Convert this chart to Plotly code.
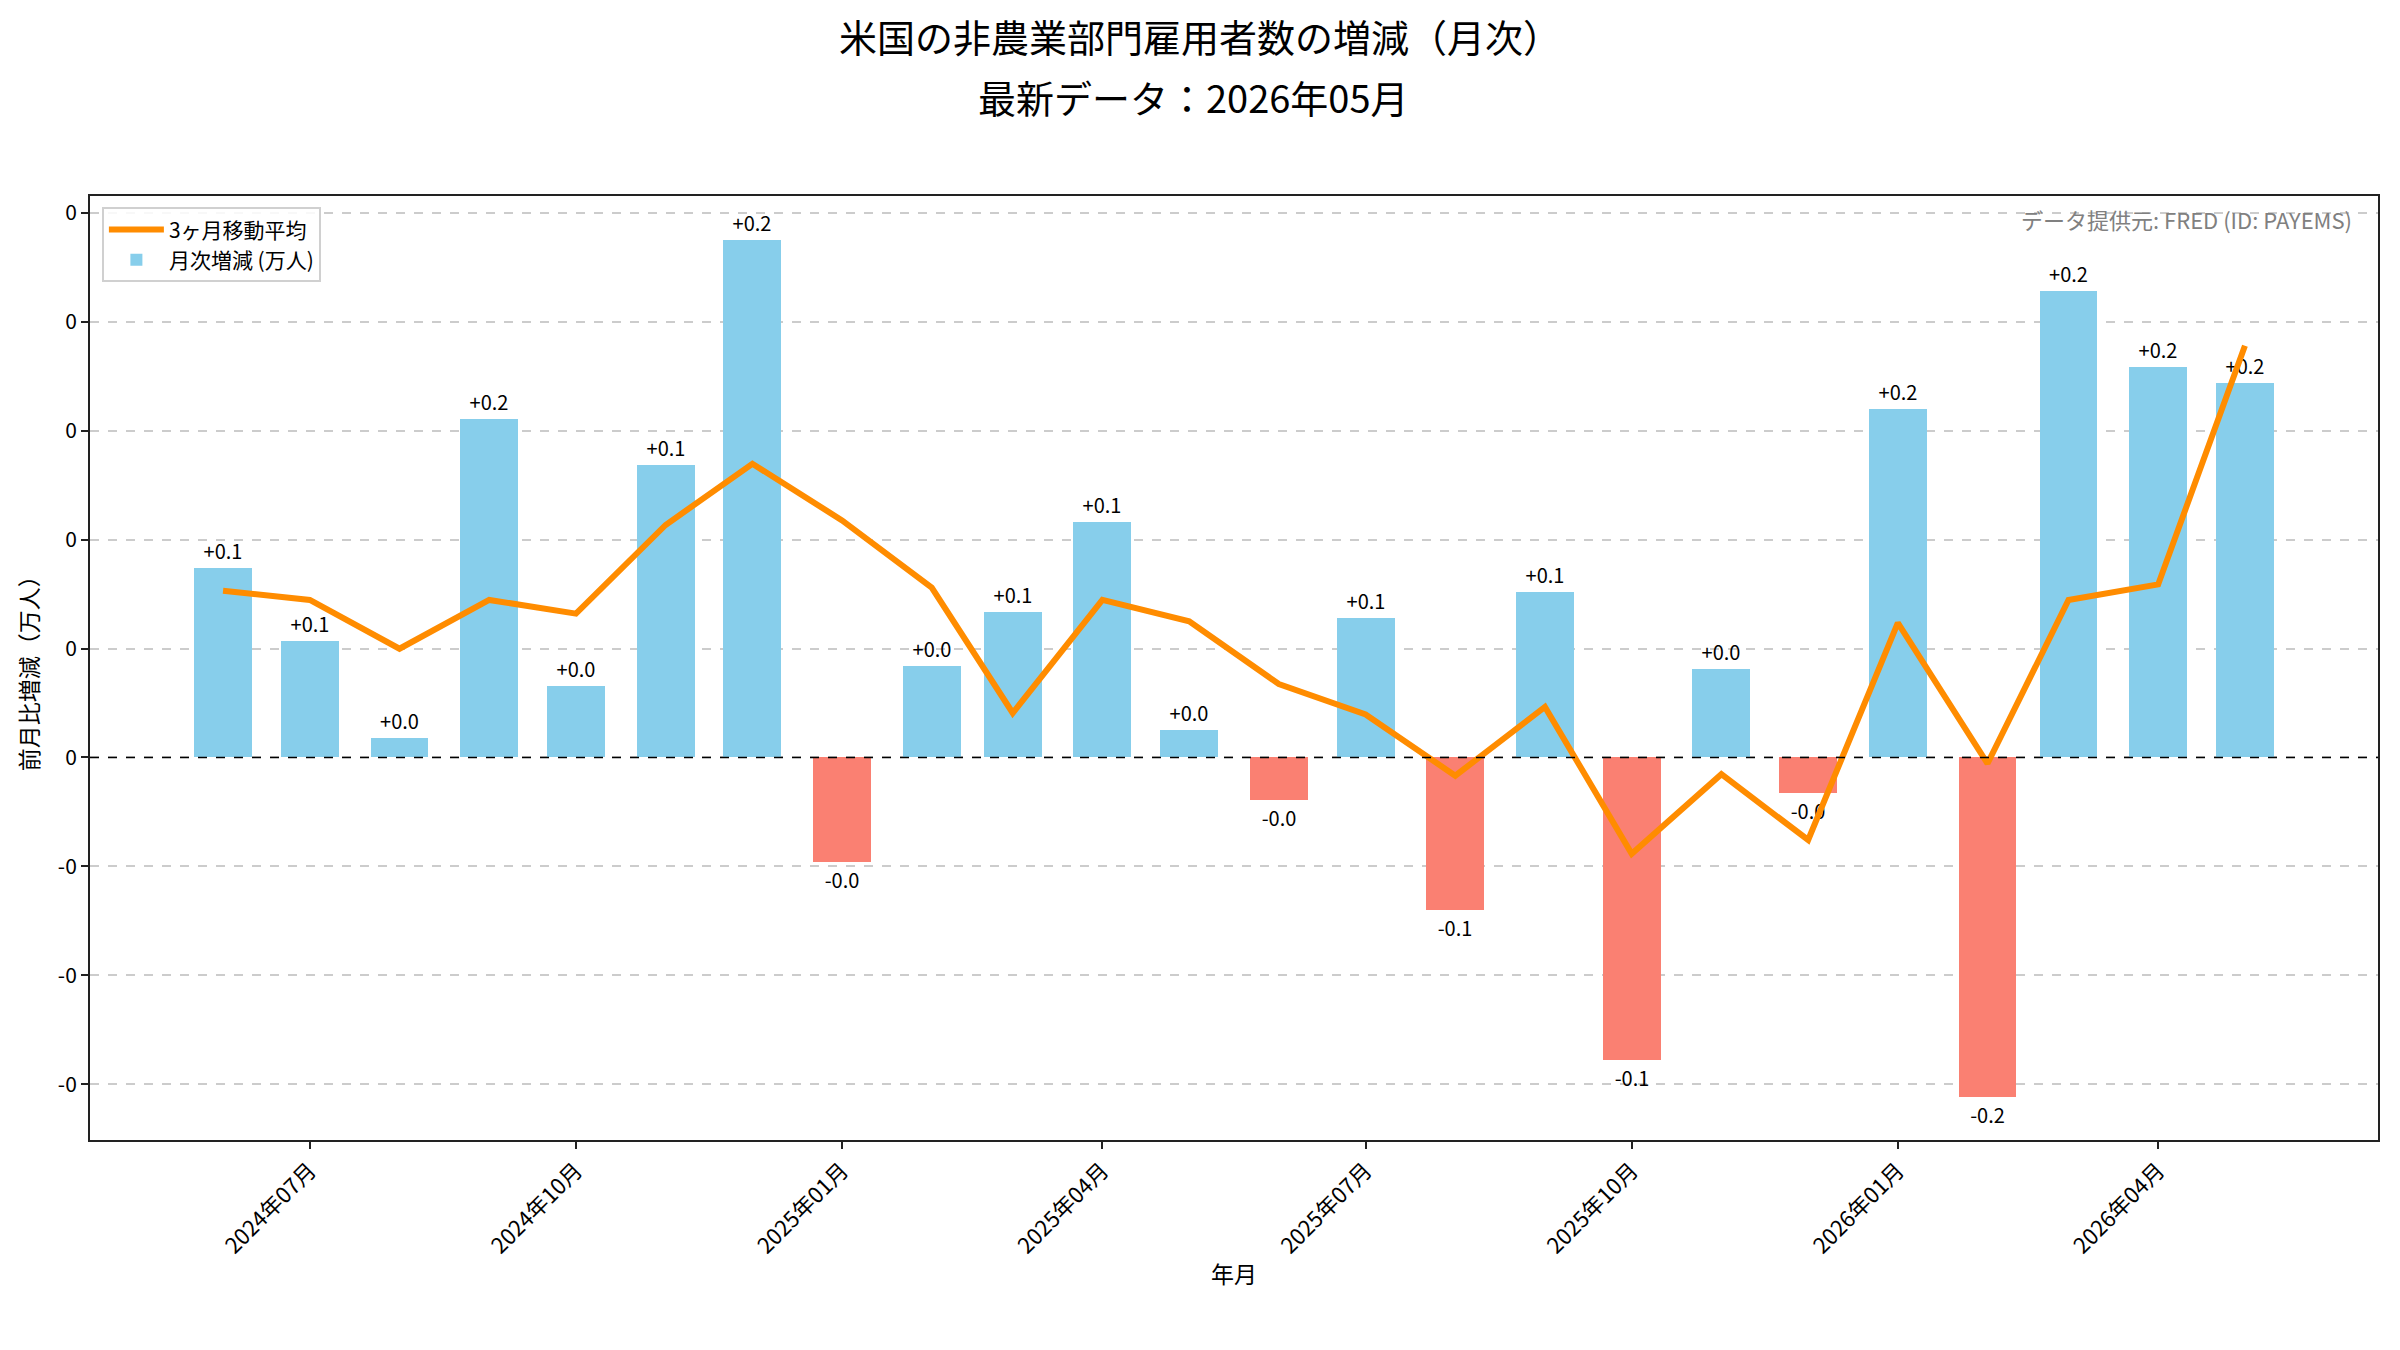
import plotly.graph_objects as go

# ---- data ----
months = [
    "2024-06-01", "2024-07-01", "2024-08-01", "2024-09-01", "2024-10-01", "2024-11-01",
    "2024-12-01", "2025-01-01", "2025-02-01", "2025-03-01", "2025-04-01", "2025-05-01",
    "2025-06-01", "2025-07-01", "2025-08-01", "2025-09-01", "2025-10-01", "2025-11-01",
    "2025-12-01", "2026-01-01", "2026-02-01", "2026-03-01", "2026-04-01", "2026-05-01",
]
monthly_change = [
    0.0871, 0.0534, 0.0091, 0.1552, 0.0330, 0.1341,
    0.2374, -0.0478, 0.0421, 0.0667, 0.1081, 0.0126,
    -0.0197, 0.0639, -0.0702, 0.0758, -0.1390, 0.0407,
    -0.0162, 0.1600, -0.1560, 0.2142, 0.1790, 0.1720,
]
moving_avg_3m = [
    0.0765, 0.0723, 0.0499, 0.0723, 0.0660, 0.1067,
    0.1348, 0.1088, 0.0780, 0.0204, 0.0723, 0.0625,
    0.0337, 0.0197, -0.0084, 0.0232, -0.0442, -0.0077,
    -0.0379, 0.0618, -0.0028, 0.0723, 0.0794, 0.1890,
]
ytick_vals = [-0.15, -0.10, -0.05, 0.0, 0.05, 0.10, 0.15, 0.20, 0.25]
ytick_text = ["-0", "-0", "-0", "0", "0", "0", "0", "0", "0"]

title_line1 = "米国の非農業部門雇用者数の増減（月次）"
title_line2 = "最新データ：2026年05月"
source_text = "データ提供元: FRED (ID: PAYEMS)"

FONT = "Noto Sans CJK JP, Noto Sans, sans-serif"
POS_COLOR = "#87CEEB"
NEG_COLOR = "#FA8072"
LINE_COLOR = "#FF8C00"

bar_colors = [POS_COLOR if v >= 0 else NEG_COLOR for v in monthly_change]
bar_labels = [f"{v:+.1f}" for v in monthly_change]

fig = go.Figure()
fig.add_trace(go.Bar(
    x=months, y=monthly_change,
    width=20 * 86400000,
    marker=dict(color=bar_colors, line=dict(width=0)),
    text=bar_labels, textposition="outside", constraintext="none",
    textfont=dict(family=FONT, size=20, color="black"),
    cliponaxis=False,
    name="月次増減 (万人)", legendrank=2,
))
fig.add_trace(go.Scatter(
    x=months, y=moving_avg_3m, mode="lines",
    line=dict(color=LINE_COLOR, width=6),
    name="3ヶ月移動平均", legendrank=1,
))

fig.add_shape(type="line", xref="paper", x0=0, x1=1, yref="y", y0=0, y1=0,
              line=dict(color="black", width=1.6, dash="dash"), layer="above")

# second title line (pixel y=96 -> paper coords of the 944px-tall plot area)
fig.add_annotation(text=title_line2, xref="paper", yref="paper",
                   x=0.4825, y=(1140 - 96) / 944, xanchor="center", yanchor="middle",
                   showarrow=False, font=dict(family=FONT, size=38, color="black"))
fig.add_annotation(text=source_text, xref="paper", yref="paper",
                   x=0.9895, y=0.9756, xanchor="right", yanchor="middle",
                   showarrow=False, font=dict(family=FONT, size=22, color="#808080"))
fig.add_annotation(text="年月", xref="paper", yref="paper",
                   x=0.5, y=-0.1409, xanchor="center", yanchor="middle",
                   showarrow=False, font=dict(family=FONT, size=23, color="black"))
fig.add_annotation(text="前月比増減（万人）", xref="paper", yref="paper",
                   x=-0.027, y=0.5, xanchor="center", yanchor="middle", textangle=-90,
                   showarrow=False, font=dict(family=FONT, size=23, color="black"))

fig.update_layout(
    width=2400, height=1350,
    paper_bgcolor="white", plot_bgcolor="white",
    margin=dict(l=90, r=22, t=196, b=210),
    font=dict(family=FONT, size=20, color="black"),
    title=dict(text=title_line1, x=0.5, xref="container", xanchor="center",
               y=1 - 39 / 1350, yref="container", yanchor="middle",
               font=dict(family=FONT, size=38, color="black")),
    bargap=0,
    showlegend=True,
    legend=dict(x=0.0052, y=0.988, xanchor="left", yanchor="top",
                bgcolor="rgba(255,255,255,0.85)", bordercolor="#d0d0d0", borderwidth=2,
                font=dict(family=FONT, size=21, color="black"),
                itemwidth=55, tracegroupgap=6),
)
fig.update_xaxes(
    type="date", range=["2024-04-16", "2026-06-16"],
    tickformat="%Y年%m月", dtick="M3", tick0="2024-07-01",
    tickangle=-45, ticks="outside", ticklen=7, tickwidth=1.6, tickcolor="#222",
    tickfont=dict(family=FONT, size=22, color="black"),
    showline=True, linecolor="#222", linewidth=2, mirror=True,
    showgrid=False, zeroline=False,
)
fig.update_yaxes(
    range=[-0.1756, 0.2577],
    tickvals=ytick_vals, ticktext=ytick_text,
    ticks="outside", ticklen=7, tickwidth=1.6, tickcolor="#222",
    tickfont=dict(family=FONT, size=21, color="black"),
    showline=True, linecolor="#222", linewidth=2, mirror=True,
    showgrid=True, gridcolor="#cccccc", gridwidth=1.5, griddash="dash",
    zeroline=False,
)

fig.write_html("out.html")
